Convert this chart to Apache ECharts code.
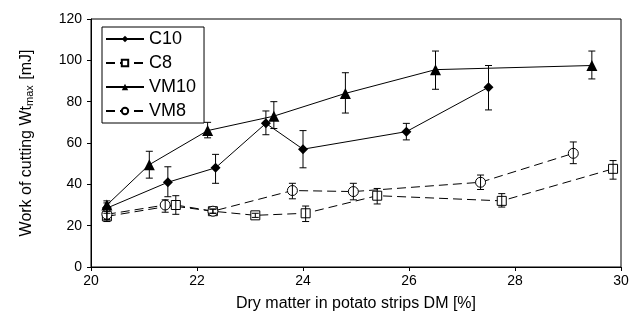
<!DOCTYPE html>
<html>
<head>
<meta charset="utf-8">
<script src="https://cdn.jsdelivr.net/npm/echarts@6/dist/echarts.min.js"></script>
<style>
  html, body { margin: 0; padding: 0; background: #fff; }
  #chart { width: 640px; height: 328px; }
</style>
</head>
<body>
<div id="chart"></div>
<script>
// Dry matter DM [%] and work of cutting [mJ], with error bar limits [low, high]
const c10X = [20.3, 21.45, 22.35, 23.3, 24.0, 25.95, 27.5];
const c10Y = [28.5, 41, 48, 69.5, 57, 65.5, 87];
const c10Err = [[26, 31], [34, 48.5], [40.5, 54.5], [64, 75.5], [48, 66], [61.5, 69.5], [76, 97.5]];

const c8X = [20.3, 21.6, 22.3, 23.1, 24.05, 25.4, 27.75, 29.85];
const c8Y = [24.5, 30, 27, 25, 26, 34.5, 32, 47.5];
const c8Err = [[22, 27], [25.5, 34.5], [26, 28], [24, 26], [22, 29.5], [30.5, 38], [29, 35.5], [42.5, 51.5]];

const vm10X = [20.3, 21.1, 22.2, 23.45, 24.8, 26.5, 29.45];
const vm10Y = [30, 49.5, 66, 73, 84, 95.5, 97.5];
const vm10Err = [[27, 32], [43, 56], [62.5, 70], [67, 80], [74.5, 94], [86, 104.5], [91, 104.5]];

const vm8X = [20.3, 21.4, 22.3, 23.8, 24.95, 27.35, 29.1];
const vm8Y = [25.5, 30, 27, 37, 36.5, 41, 55];
const vm8Err = [[23, 28], [26.5, 32.5], [26, 28], [33, 40.5], [32.5, 40.5], [37.5, 44.5], [50, 60.5]];

const FONT = '"Liberation Sans", Arial, sans-serif';
const INK = '#000';

function pairs(xs, ys) {
    return xs.map((x, i) => [x, ys[i]]);
}

function errRows(xs, errs) {
    return xs.map((x, i) => [x, errs[i][0], errs[i][1]]);
}

function renderErrorBar(params, api) {
    const x = api.value(0);
    const lo = api.coord([x, api.value(1)]);
    const hi = api.coord([x, api.value(2)]);
    const w = 3.5;
    const style = { stroke: INK, lineWidth: 1 };
    return {
        type: 'group',
        children: [
            { type: 'line', shape: { x1: lo[0], y1: lo[1], x2: hi[0], y2: hi[1] }, style },
            { type: 'line', shape: { x1: hi[0] - w, y1: hi[1], x2: hi[0] + w, y2: hi[1] }, style },
            { type: 'line', shape: { x1: lo[0] - w, y1: lo[1], x2: lo[0] + w, y2: lo[1] }, style },
        ],
    };
}

function lineSeries(name, xs, ys, symbol, size, hollow, dashed) {
    return {
        name,
        type: 'line',
        data: pairs(xs, ys),
        symbol,
        symbolSize: size,
        showAllSymbol: true,
        lineStyle: { color: INK, width: 1, type: dashed ? [9, 5] : 'solid' },
        itemStyle: hollow
            ? { color: '#fff', borderColor: INK, borderWidth: 1 }
            : { color: INK, borderColor: INK, borderWidth: 0 },
        z: 3,
        animation: false,
    };
}

function errSeries(name, xs, errs) {
    return {
        name: name + ' err',
        type: 'custom',
        renderItem: renderErrorBar,
        data: errRows(xs, errs),
        encode: { x: 0, y: [1, 2] },
        z: 4,
        silent: true,
        animation: false,
    };
}

const chart = echarts.init(document.getElementById('chart'), null, { renderer: 'canvas' });
chart.setOption({
    backgroundColor: '#fff',
    animation: false,
    textStyle: { fontFamily: FONT, color: INK },
    grid: { left: 91, right: 19, top: 19, bottom: 61, show: true, borderColor: INK, borderWidth: 1 },
    legend: {
        data: ['C10', 'C8', 'VM10', 'VM8'],
        orient: 'vertical',
        left: 102,
        top: 27,
        padding: [3, 8, 3, 3],
        itemGap: 6,
        itemWidth: 38,
        itemHeight: 8,
        borderColor: INK,
        borderWidth: 1,
        backgroundColor: '#fff',
        textStyle: { fontFamily: FONT, fontSize: 18, color: INK, lineHeight: 18 },
    },
    xAxis: {
        type: 'value',
        min: 20,
        max: 30,
        interval: 2,
        name: 'Dry matter in potato strips DM [%]',
        nameLocation: 'middle',
        nameGap: 29,
        nameTextStyle: { fontFamily: FONT, fontSize: 16, color: INK },
        axisLine: { onZero: false, lineStyle: { color: INK, width: 1 } },
        axisTick: { inside: false, length: 4, lineStyle: { color: INK } },
        axisLabel: { fontFamily: FONT, fontSize: 14, color: INK, margin: 7 },
        splitLine: { show: false },
    },
    yAxis: {
        type: 'value',
        min: 0,
        max: 120,
        interval: 20,
        name: 'Work of cutting Wt{sub|max} [mJ]',
        nameLocation: 'middle',
        nameGap: 56,
        nameTextStyle: {
            fontFamily: FONT, fontSize: 16, color: INK,
            rich: { sub: { fontFamily: FONT, fontSize: 11, color: INK, verticalAlign: 'bottom', padding: [6, 1, 0, 0] } },
        },
        axisLine: { show: true, lineStyle: { color: INK, width: 1 } },
        axisTick: { show: true, inside: false, length: 4, lineStyle: { color: INK } },
        axisLabel: { fontFamily: FONT, fontSize: 14, color: INK, margin: 9 },
        splitLine: { show: false },
    },
    series: [
        lineSeries('C10', c10X, c10Y, 'diamond', 10, false, false),
        lineSeries('C8', c8X, c8Y, 'rect', 9, true, true),
        lineSeries('VM10', vm10X, vm10Y, 'triangle', 11, false, false),
        lineSeries('VM8', vm8X, vm8Y, 'circle', 10, true, true),
        errSeries('C10', c10X, c10Err),
        errSeries('C8', c8X, c8Err),
        errSeries('VM10', vm10X, vm10Err),
        errSeries('VM8', vm8X, vm8Err),
    ],
});
</script>
</body>
</html>
